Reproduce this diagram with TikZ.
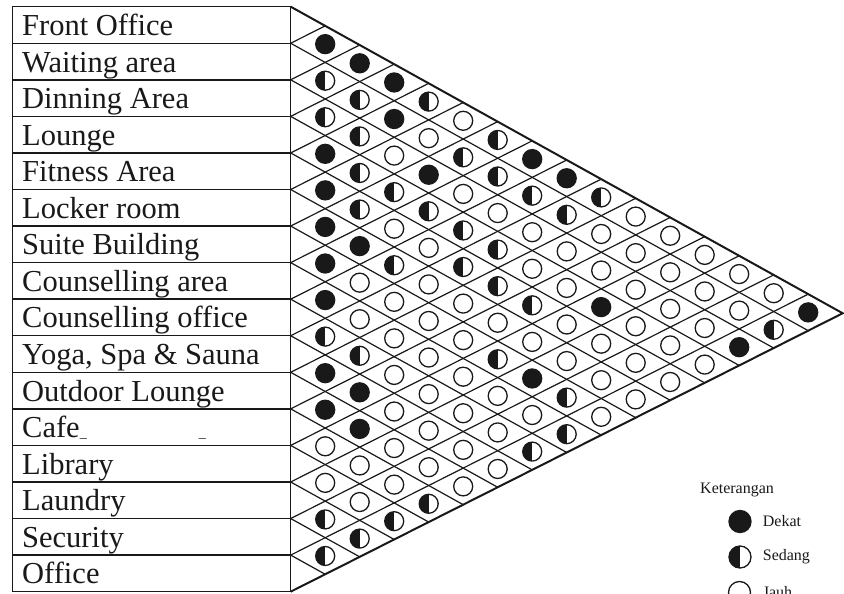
\documentclass[tikz,border=0pt]{standalone}
\usepackage{fontspec}
\setmainfont{Liberation Serif}
\usetikzlibrary{positioning}
\definecolor{ink}{RGB}{25,25,25}
\newcommand{\smallbar}{{\fontsize{14}{14}\selectfont\_}}

\begin{document}
\begin{tikzpicture}[x=1pt,y=-1pt,
  roomtext/.style={anchor=base west,inner sep=0pt,text=ink,font=\fontsize{30.5}{31}\selectfont},
  legtext/.style={inner sep=0pt,text=ink,font=\fontsize{16}{16}\selectfont},
  tableline/.style={draw=ink,line width=1.4pt},
  gridline/.style={draw=ink,line width=1.2pt},
  rim/.style={draw=ink,line width=2pt,line join=miter},
  relbase/.style={circle,draw=ink,fill=white,line width=1.3pt,minimum size=19pt,inner sep=0pt},
  dk/.style={relbase,fill=ink},
  sd/.style={relbase,path picture={\fill[ink] (path picture bounding box.south west) rectangle (path picture bounding box.north);}},
  jh/.style={relbase}]
\useasboundingbox (0,0) rectangle (844,594);
\clip (0,0) rectangle (844,594);

% table of rooms
\draw[tableline] (12.3,6.7) rectangle (290.7,591.7);
\foreach \m in {1,...,15}
  \draw[tableline] (12.3,{6.7+36.56*\m}) -- (290.7,{6.7+36.56*\m});
\foreach \txt [count=\r from 0] in {Front Office,Waiting area,Dinning Area,Lounge,Fitness Area,Locker room,Suite Building,Counselling area,Counselling office,{Yoga, Spa \& Sauna},Outdoor Lounge,{Cafe\smallbar\hspace{112pt}\smallbar},Library,Laundry,Security,Office}
  \node[roomtext] (r\r) at (22,{6.7+36.56*(\r+1)-7.8}) {\txt};

% relation matrix
\begin{scope}[shift={(290.7,6.7)},x={(-34.5pt,-17.4pt)},y={(34.5pt,-19.16pt)}]
  \foreach \m in {1,...,15} {
    \draw[gridline] (\m,\m) -- (\m,16);
    \draw[gridline] (\m,\m) -- (0,\m);
  }
  \draw[rim] (0,0) -- (0,16) -- (16,16);
  \foreach \row [count=\i from 0] in {
    {dk,dk,dk,sd,jh,sd,dk,dk,sd,jh,jh,jh,jh,jh,dk},
    {sd,sd,dk,jh,sd,sd,sd,sd,jh,jh,jh,jh,jh,sd},
    {sd,sd,jh,dk,jh,jh,jh,jh,jh,jh,jh,jh,dk},
    {dk,sd,sd,sd,sd,sd,jh,jh,dk,jh,jh,jh},
    {dk,sd,jh,jh,sd,sd,sd,jh,jh,jh,jh},
    {dk,dk,sd,jh,jh,jh,jh,jh,jh,jh},
    {dk,jh,jh,jh,jh,sd,dk,sd,jh},
    {dk,jh,jh,jh,jh,jh,jh,sd},
    {sd,sd,jh,jh,jh,jh,sd},
    {dk,dk,jh,jh,jh,jh},
    {dk,dk,jh,jh,jh},
    {jh,jh,jh,sd},
    {jh,jh,sd},
    {sd,sd},
    {sd}} {
    \foreach \v [count=\k] in \row {
      \pgfmathtruncatemacro\j{\i+\k}
      \node[\v] (c\i-\j) at ({\i+0.5},{\j+0.5}) {};
    }
  }
\end{scope}

% legend
\node[legtext,anchor=base west] (ket) at (700,493) {Keterangan};
\node[dk,minimum size=22pt] (ldk) at (740,521.5) {};
\node[sd,minimum size=22pt] (lsd) at (740,557) {};
\node[jh,minimum size=22pt] (ljh) at (739.5,592.5) {};
\node[legtext,right=11pt of ldk] (tdk) {Dekat};
\node[legtext,right=11pt of lsd] (tsd) {Sedang};
\node[legtext,right=11.5pt of ljh] (tjh) {Jauh};
\end{tikzpicture}
\end{document}
